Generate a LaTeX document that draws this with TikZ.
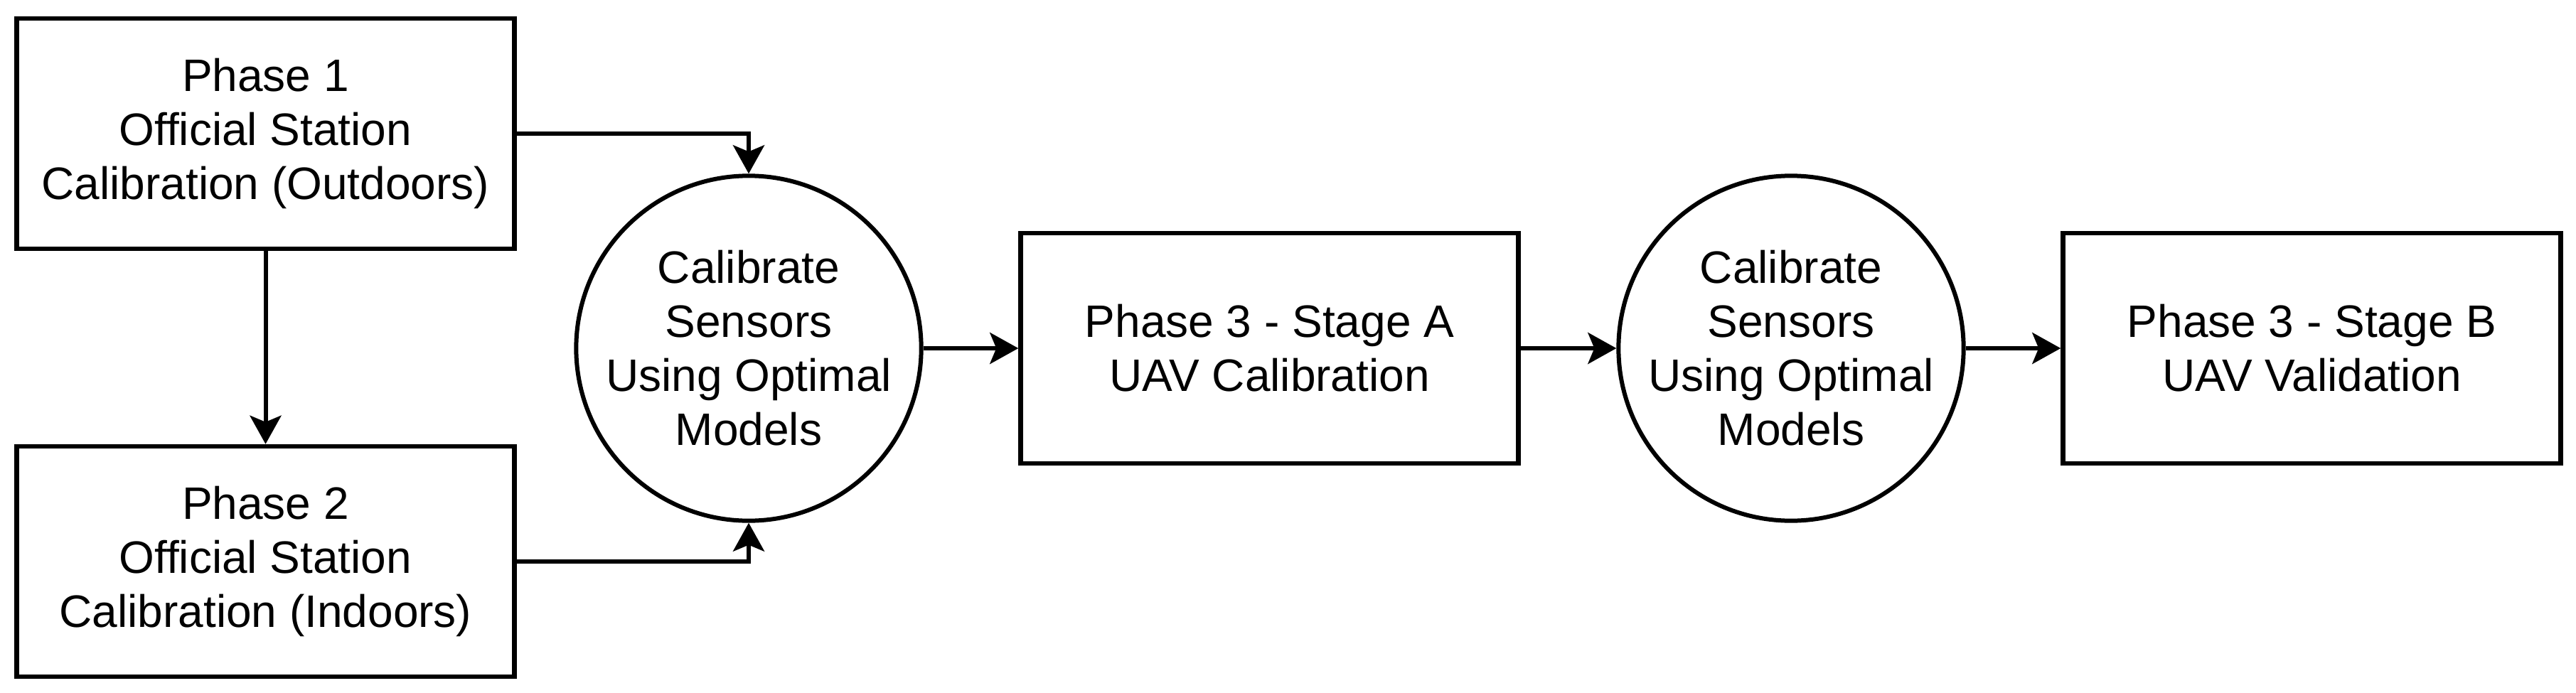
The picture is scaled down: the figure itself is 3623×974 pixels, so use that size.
\documentclass[tikz,border=0pt]{standalone}
\usepackage{fontspec}
\setmainfont{Liberation Sans}
\usetikzlibrary{arrows.meta}
\begin{document}
\begin{tikzpicture}[x=1pt,y=-1pt,
  every node/.style={font=\fontsize{64}{76}\selectfont, align=center},
  phasebox/.style={draw, line width=6.5pt, minimum width=700pt, minimum height=324pt, inner sep=0pt},
  calcircle/.style={draw, circle, line width=6pt, minimum size=434pt, inner sep=0pt},
  conn/.style={line width=6pt, -{Stealth[length=40pt,width=44pt,inset=9pt]}}
]
\useasboundingbox (0,0) rectangle (3623,974);
\node[phasebox] (b1) at (373.5,188) {Phase 1\\Official Station\\Calibration (Outdoors)};
\node[phasebox] (b2) at (373.5,790) {Phase 2\\Official Station\\Calibration (Indoors)};
\node[calcircle] (c1) at (1053,490) {Calibrate\\Sensors\\Using Optimal\\Models};
\node[phasebox] (sa) at (1785.5,490) {Phase 3 - Stage A\\UAV Calibration};
\node[calcircle] (c2) at (2519,490) {Calibrate\\Sensors\\Using Optimal\\Models};
\node[phasebox] (sb) at (3251.5,490) {Phase 3 - Stage B\\UAV Validation};
\draw[conn] (b1.south) -- (b2.north);
\draw[conn] (b1.east) -| (c1.north);
\draw[conn] (b2.east) -| (c1.south);
\draw[conn] (c1.east) -- (sa.west);
\draw[conn] (sa.east) -- (c2.west);
\draw[conn] (c2.east) -- (sb.west);
\end{tikzpicture}
\end{document}
